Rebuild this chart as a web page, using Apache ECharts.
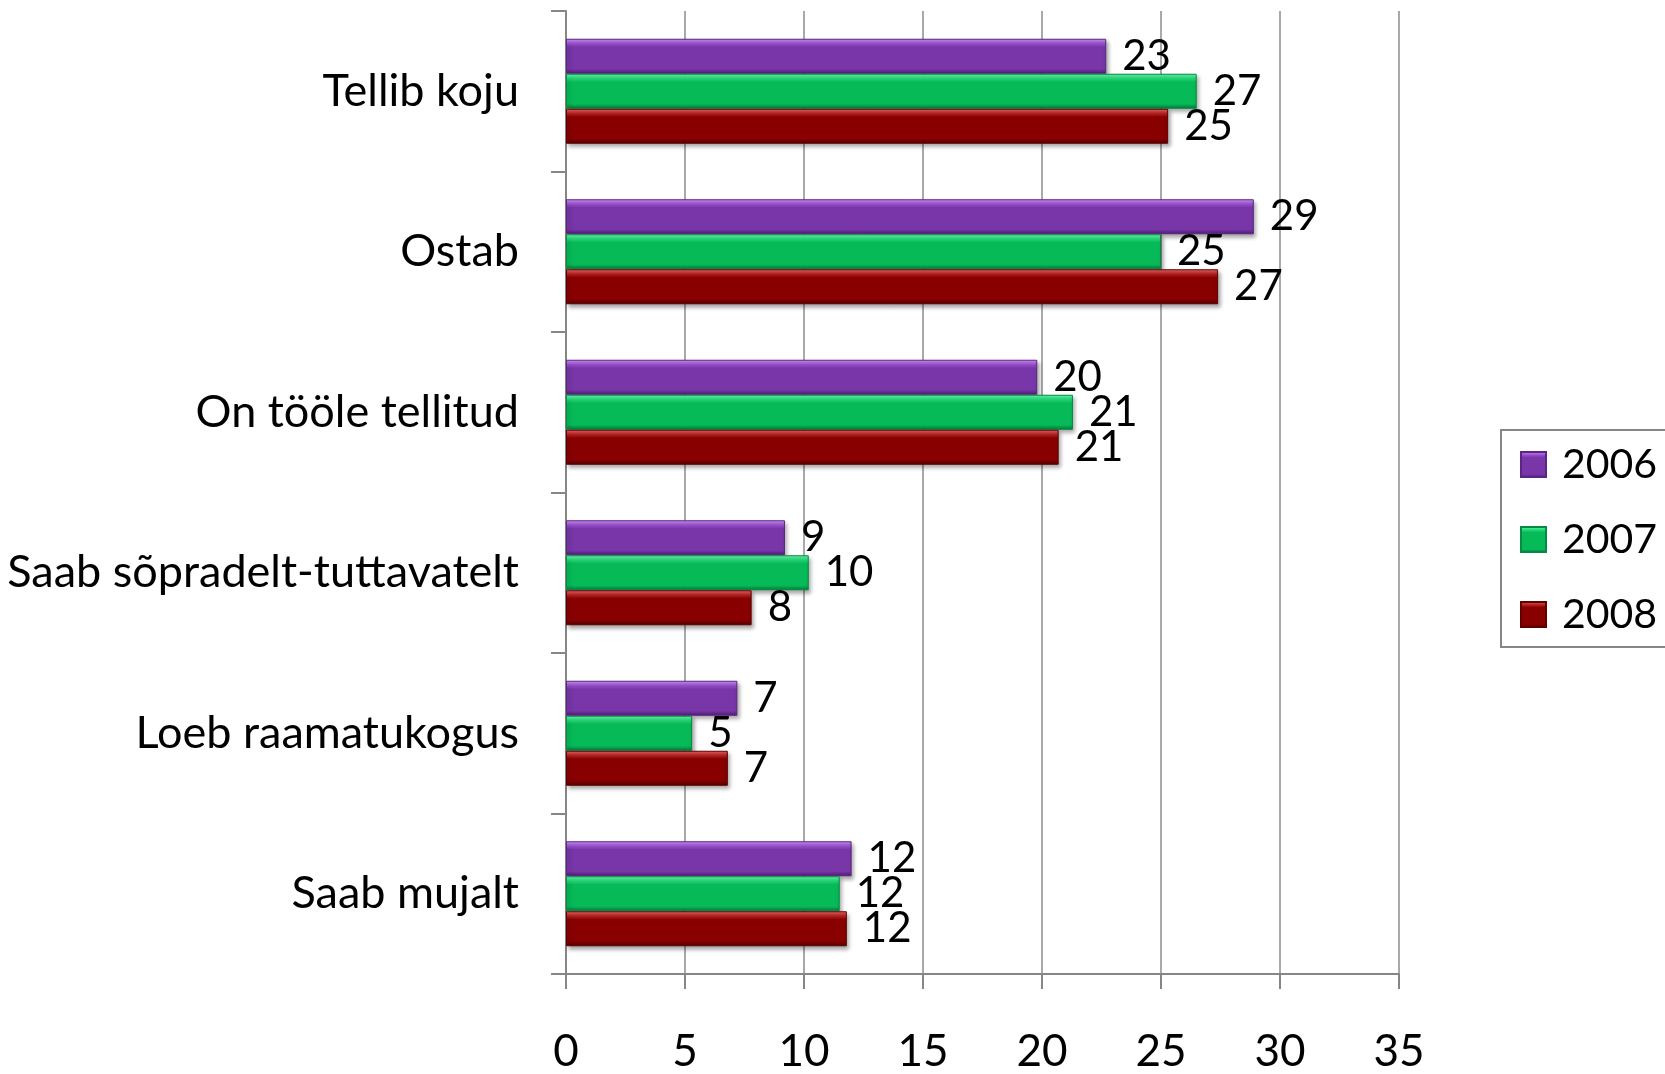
<!DOCTYPE html>
<html>
<head>
<meta charset="utf-8" />
<title>bar chart</title>
<script src="https://cdn.jsdelivr.net/npm/echarts@6/dist/echarts.min.js"></script>
<style>
  html,
  body {
    margin: 0;
    padding: 0;
    background: #fff;
  }
  #chart {
    width: 1665px;
    height: 1074px;
  }
</style>
</head>
<body>
<div id="chart"></div>
<script>
// categories, top to bottom
const categories = [
  "Tellib koju",
  "Ostab",
  "On tööle tellitud",
  "Saab sõpradelt-tuttavatelt",
  "Loeb raamatukogus",
  "Saab mujalt",
];
const years = ["2006", "2007", "2008"];
// values
const values2006 = [22.7, 28.9, 19.8, 9.2, 7.2, 12.0];
const values2007 = [26.5, 25.0, 21.3, 10.2, 5.3, 11.5];
const values2008 = [25.3, 27.4, 20.7, 7.8, 6.8, 11.8];
const xTicks = [0, 5, 10, 15, 20, 25, 30, 35];

const FONT = "Lato";

// bevel look: light top edge, flat body, dark bottom edge
function bevel(light, mid, main, dark) {
  return new echarts.graphic.LinearGradient(0, 0, 0, 1, [
    { offset: 0, color: light },
    { offset: 0.14, color: mid },
    { offset: 0.24, color: main },
    { offset: 0.86, color: main },
    { offset: 1, color: dark },
  ]);
}

const colors = [
  bevel("#cf95f8", "#9c52d2", "#7836a8", "#4c1c70"),
  bevel("#6af8ae", "#26da7a", "#07ba58", "#03763a"),
  bevel("#e86a6a", "#b82020", "#880000", "#4e0000"),
];
const borders = ["#5a2682", "#048a42", "#600000"];

function makeSeries(name, data, i) {
  return {
    name: name,
    type: "bar",
    data: data,
    barWidth: 35,
    barGap: "0%",
    itemStyle: {
      color: colors[i],
      borderColor: borders[i],
      borderWidth: 1,
      shadowColor: "rgba(0,0,0,0.35)",
      shadowBlur: 4,
      shadowOffsetX: 2,
      shadowOffsetY: 3,
    },
    label: {
      show: true,
      position: "right",
      distance: 16,
      color: "#000",
      fontFamily: FONT,
      fontSize: 42,
      formatter: (p) => Math.round(p.value),
    },
    emphasis: { disabled: true },
  };
}

const chart = echarts.init(document.getElementById("chart"));
const option = {
  animation: false,
  textStyle: { fontFamily: FONT },
  grid: {
    left: 566,
    top: 11,
    right: 266,
    bottom: 98,
    containLabel: false,
  },
  legend: {
    orient: "vertical",
    left: 1501,
    top: 430,
    data: years,
    itemWidth: 25,
    itemHeight: 25,
    itemGap: 34,
    icon: "rect",
    padding: [14, 20, 12, 19],
    borderColor: "#868686",
    borderWidth: 2,
    textStyle: {
      fontFamily: FONT,
      fontSize: 41,
      lineHeight: 40,
      color: "#000",
      padding: [0, 0, 0, 11],
    },
  },
  xAxis: {
    type: "value",
    min: 0,
    max: 35,
    interval: 5,
    axisLine: { show: true, lineStyle: { color: "#868686", width: 2 } },
    axisTick: { show: true, length: 15, lineStyle: { color: "#868686", width: 2 } },
    axisLabel: {
      color: "#000",
      fontFamily: FONT,
      fontSize: 44,
      margin: 56,
      customValues: xTicks,
    },
    splitLine: { show: true, lineStyle: { color: "#8c8c8c", width: 1.5 } },
  },
  yAxis: {
    type: "category",
    data: categories,
    inverse: true,
    axisLine: { show: true, lineStyle: { color: "#868686", width: 2 } },
    axisTick: { show: true, length: 15, lineStyle: { color: "#868686", width: 2 } },
    axisLabel: {
      color: "#000",
      fontFamily: FONT,
      fontSize: 45,
      margin: 47,
    },
  },
  series: [
    makeSeries(years[0], values2006, 0),
    makeSeries(years[1], values2007, 1),
    makeSeries(years[2], values2008, 2),
  ],
};
chart.setOption(option);
</script>
</body>
</html>
